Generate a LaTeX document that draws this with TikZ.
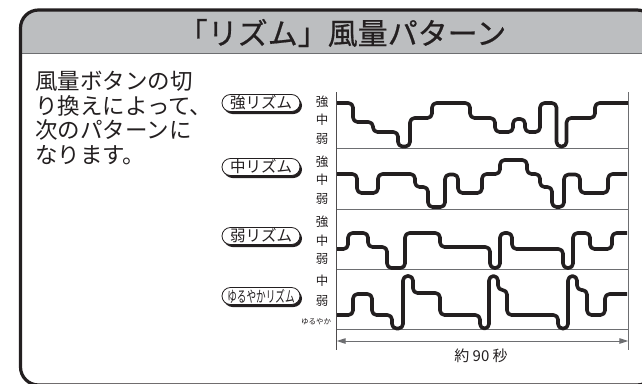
\documentclass[tikz,border=0pt]{standalone}
\usepackage{fontspec}
\setmainfont{Noto Sans CJK JP}
\newfontfamily\titlefont[FakeBold=0.6]{Noto Sans CJK JP}
\usetikzlibrary{shadows,arrows.meta}
\definecolor{inkblack}{HTML}{231F20}
\definecolor{headgray}{HTML}{BCBEC0}
\definecolor{linegray}{HTML}{6D6E71}
\tikzstyle{frame}=[draw=inkblack,line width=3.2pt,rounded corners=18pt]
\tikzstyle{wave}=[draw=inkblack,line width=3.6pt,rounded corners=4.5pt,line join=round]
\tikzstyle{stripline}=[draw=linegray,line width=1.5pt]
\tikzstyle{axisline}=[draw=inkblack!80,line width=1pt]
\tikzstyle{pill}=[draw=inkblack,fill=white,line width=0.8pt,rounded corners=8.5pt,minimum width=78pt,minimum height=17pt,inner sep=0pt,text=inkblack,font=\fontsize{15.5}{15.5}\selectfont,drop shadow={shadow xshift=2pt,shadow yshift=-2.5pt,fill=inkblack,opacity=1}]
\tikzstyle{lvtext}=[inner sep=0pt,text=inkblack,font=\fontsize{12.5}{12.5}\selectfont]
\tikzstyle{dimline}=[draw=linegray,line width=1pt,{Triangle[length=9pt,width=5.5pt]}-{Triangle[length=9pt,width=5.5pt]}]

\begin{document}
\begin{tikzpicture}[x=1pt,y=-1pt]
\useasboundingbox (0,0) rectangle (642,383);
% frame with grey header
\begin{scope}
  \clip[rounded corners=18pt] (20.5,10) rectangle (655,385);
  \fill[headgray] (0,0) rectangle (660,53.5);
\end{scope}
\draw[stripline] (20.5,53.5) -- (655,53.5);
\draw[frame] (20.5,10) rectangle (655,385);
\node[inner sep=0pt,text=inkblack,font=\titlefont\fontsize{30}{30}\selectfont] (title) at (342,33) {「リズム」風量パターン};
\node[inner sep=0pt,anchor=north west,align=left,text=inkblack,font=\fontsize{22.5}{24.5}\selectfont] (note) at (35,71) {風量ボタンの切\\り換えによって、\\次のパターンに\\なります。};

% axes
\coordinate (ax0) at (336.7,92);
\coordinate (ax1) at (336.7,350);
\coordinate (bx0) at (628.3,92);
\coordinate (bx1) at (628.3,350);
\draw[axisline] (ax0) -- (ax1);
\draw[axisline,draw=linegray] (bx0) -- (bx1);
\foreach \y in {148.3,209.3,269.3,329.3}
  \draw[stripline] (336.7,\y) -- (628.3,\y);

% strong rhythm
\node[pill] (strong) at (261,103) {強リズム};
\node[lvtext] (s3) at (322,102) {強};
\node[lvtext] (s2) at (322,120) {中};
\node[lvtext] (s1) at (322,139) {弱};
\draw[wave] (337,103) -| (353,122) -| (373,132) -| (398,146.5) -| (410,118) -| (432,103)
  -| (470,118) -| (495,132) -| (513,119) -| (525,132) -| (540,103) -| (556.5,146.5)
  -| (566.5,118) -| (595,103) -- (628,103);

% middle rhythm
\node[pill] (middle) at (261,167) {中リズム};
\node[lvtext] (m3) at (322,162) {強};
\node[lvtext] (m2) at (322,180) {中};
\node[lvtext] (m1) at (322,199) {弱};
\draw[wave] (337,174) -| (357,193) -| (378,174) -| (415,187) -| (428,207) -| (445,174.5)
  -| (458,193) -| (482,174) -| (500,160) -| (527,174) -| (540,187) -| (552,207)
  -| (564,174.5) -| (580,193) -| (608,174) -- (627,174);

% weak rhythm
\node[pill] (weak) at (261,236) {弱リズム};
\node[lvtext] (w3) at (322,222) {強};
\node[lvtext] (w2) at (322,241) {中};
\node[lvtext] (w1) at (322,259) {弱};
\draw[wave] (337,249) -| (348,233) -| (368,247) -| (387,268) -| (405,233) -| (440,247)
  -| (490,268) -| (500,233) -| (512,249) -| (563,268) -| (573,233) -| (590,249)
  -| (612,233) -- (627,233);

% gentle rhythm
\node[pill] (gentle) at (261,296) {\scalebox{0.62}[1]{ゆるやかリズム}};
\node[lvtext] (g3) at (322,281) {中};
\node[lvtext] (g2) at (322,301) {弱};
\node[lvtext,font=\fontsize{7.5}{7.5}\selectfont] (g1) at (316,322) {ゆるやか};
\draw[wave] (337,315) -| (353,294) -| (372,315) -| (392,328.5) -| (403,276) -| (413,293)
  -| (440,315) -| (480,328.5) -| (489,276) -| (498,290) -| (507,315) -| (558,328.5)
  -| (568,276) -| (577,290) -| (587,315) -| (605,294) -- (627,294);

% time span
\coordinate (dimL) at (336.7,341);
\coordinate (dimR) at (628.3,341);
\draw[dimline] (dimL) -- (dimR);
\node[inner sep=0pt,text=inkblack,font=\fontsize{15}{15}\selectfont] (span) at (481,356) {約 90 秒};
\end{tikzpicture}
\end{document}
